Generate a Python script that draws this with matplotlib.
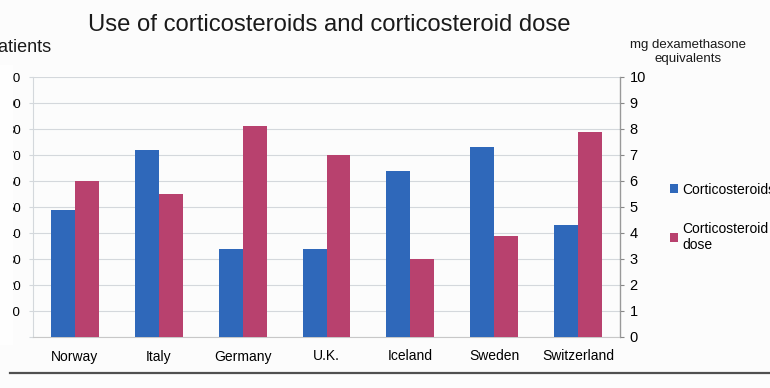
import numpy as np
import matplotlib.pyplot as plt
import matplotlib.lines as mlines
from matplotlib.patches import Rectangle

plt.rcParams['font.family'] = ['Liberation Sans', 'DejaVu Sans']

countries = ["Norway", "Italy", "Germany", "U.K.", "Iceland", "Sweden", "Switzerland"]
steroid_pct = [49, 72, 34, 34, 64, 73, 43]        # % patients, left axis
dose_mg = [6.0, 5.5, 8.1, 7.0, 3.0, 3.9, 7.9]       # mg dexamethasone equivalents, right axis
left_ticks = list(range(0, 101, 10))
left_labels = [""] + [str(t) for t in left_ticks[1:]]
right_ticks = list(range(0, 11))

blue = "#2f68ba"
pink = "#b8416e"
grid_col = "#d4d8dc"
bg = "#fcfcfc"

fig = plt.figure(figsize=(7.7, 3.88), dpi=100)
fig.patch.set_facecolor(bg)
ax = fig.add_axes([33 / 770, 1 - 337 / 388, 587 / 770, 260 / 388])
ax.set_facecolor(bg)
ax2 = ax.twinx()

x = np.arange(len(countries))
w = 0.285
b1 = ax.bar(x - w / 2, steroid_pct, w, color=blue, label="Corticosteroids", zorder=3)
b2 = ax2.bar(x + w / 2, dose_mg, w, color=pink, label="Corticosteroid\ndose", zorder=3)

ax.set_xlim(-0.5, len(countries) - 0.5)
ax.set_ylim(0, 100)
ax2.set_ylim(0, 10)

ax.set_yticks(left_ticks)
ax.set_yticklabels(left_labels, fontsize=9.5)
ax.tick_params(axis="y", length=3, pad=5.5, color=grid_col)
ax.yaxis.grid(True, color=grid_col, lw=0.8, zorder=0)
ax.set_axisbelow(True)

ax.set_xticks(x)
ax.set_xticklabels(countries, fontsize=10)
ax.tick_params(axis="x", length=0, pad=9)

ax2.set_yticks(right_ticks)
ax2.tick_params(axis="y", labelsize=10.5, length=3, pad=4, color="#888888")

for a in (ax, ax2):
    a.spines["top"].set_visible(False)
ax.spines["left"].set_color(grid_col)
ax.spines["bottom"].set_color("#c8c8c8")
ax2.spines["left"].set_visible(False)
ax2.spines["bottom"].set_visible(False)
ax2.spines["right"].set_color("#999999")

# the scanned slide is cut on the left: only the edge of the left labels shows
fig.add_artist(Rectangle((0, 1 - 345 / 388), 13 / 770, 280 / 388,
                         transform=fig.transFigure, facecolor="#fefefe",
                         edgecolor="none", zorder=10))

fig.text(0.428, 1 - 25 / 388, "Use of corticosteroids and corticosteroid dose",
         ha="center", va="center", fontsize=17.2, color="#1a1a1a")
fig.text(51 / 770, 1 - 48 / 388, "% patients", ha="right", va="center",
         fontsize=13, color="#1a1a1a")
fig.text(688 / 770, 1 - 52 / 388, "mg dexamethasone\nequivalents", ha="center",
         va="center", fontsize=9.5, color="#1a1a1a", linespacing=1.3)

fig.legend(handles=[b1, b2], loc="upper left", bbox_to_anchor=(657 / 770, 1 - 170 / 388),
           frameon=False, fontsize=10, handlelength=0.6, handleheight=0.6,
           handletextpad=0.3, labelspacing=1.8)

fig.add_artist(mlines.Line2D([10 / 770, 1], [1 - 373 / 388] * 2, color="#505050", lw=1.6))

fig.savefig("out.png", dpi=100, facecolor=fig.get_facecolor())
